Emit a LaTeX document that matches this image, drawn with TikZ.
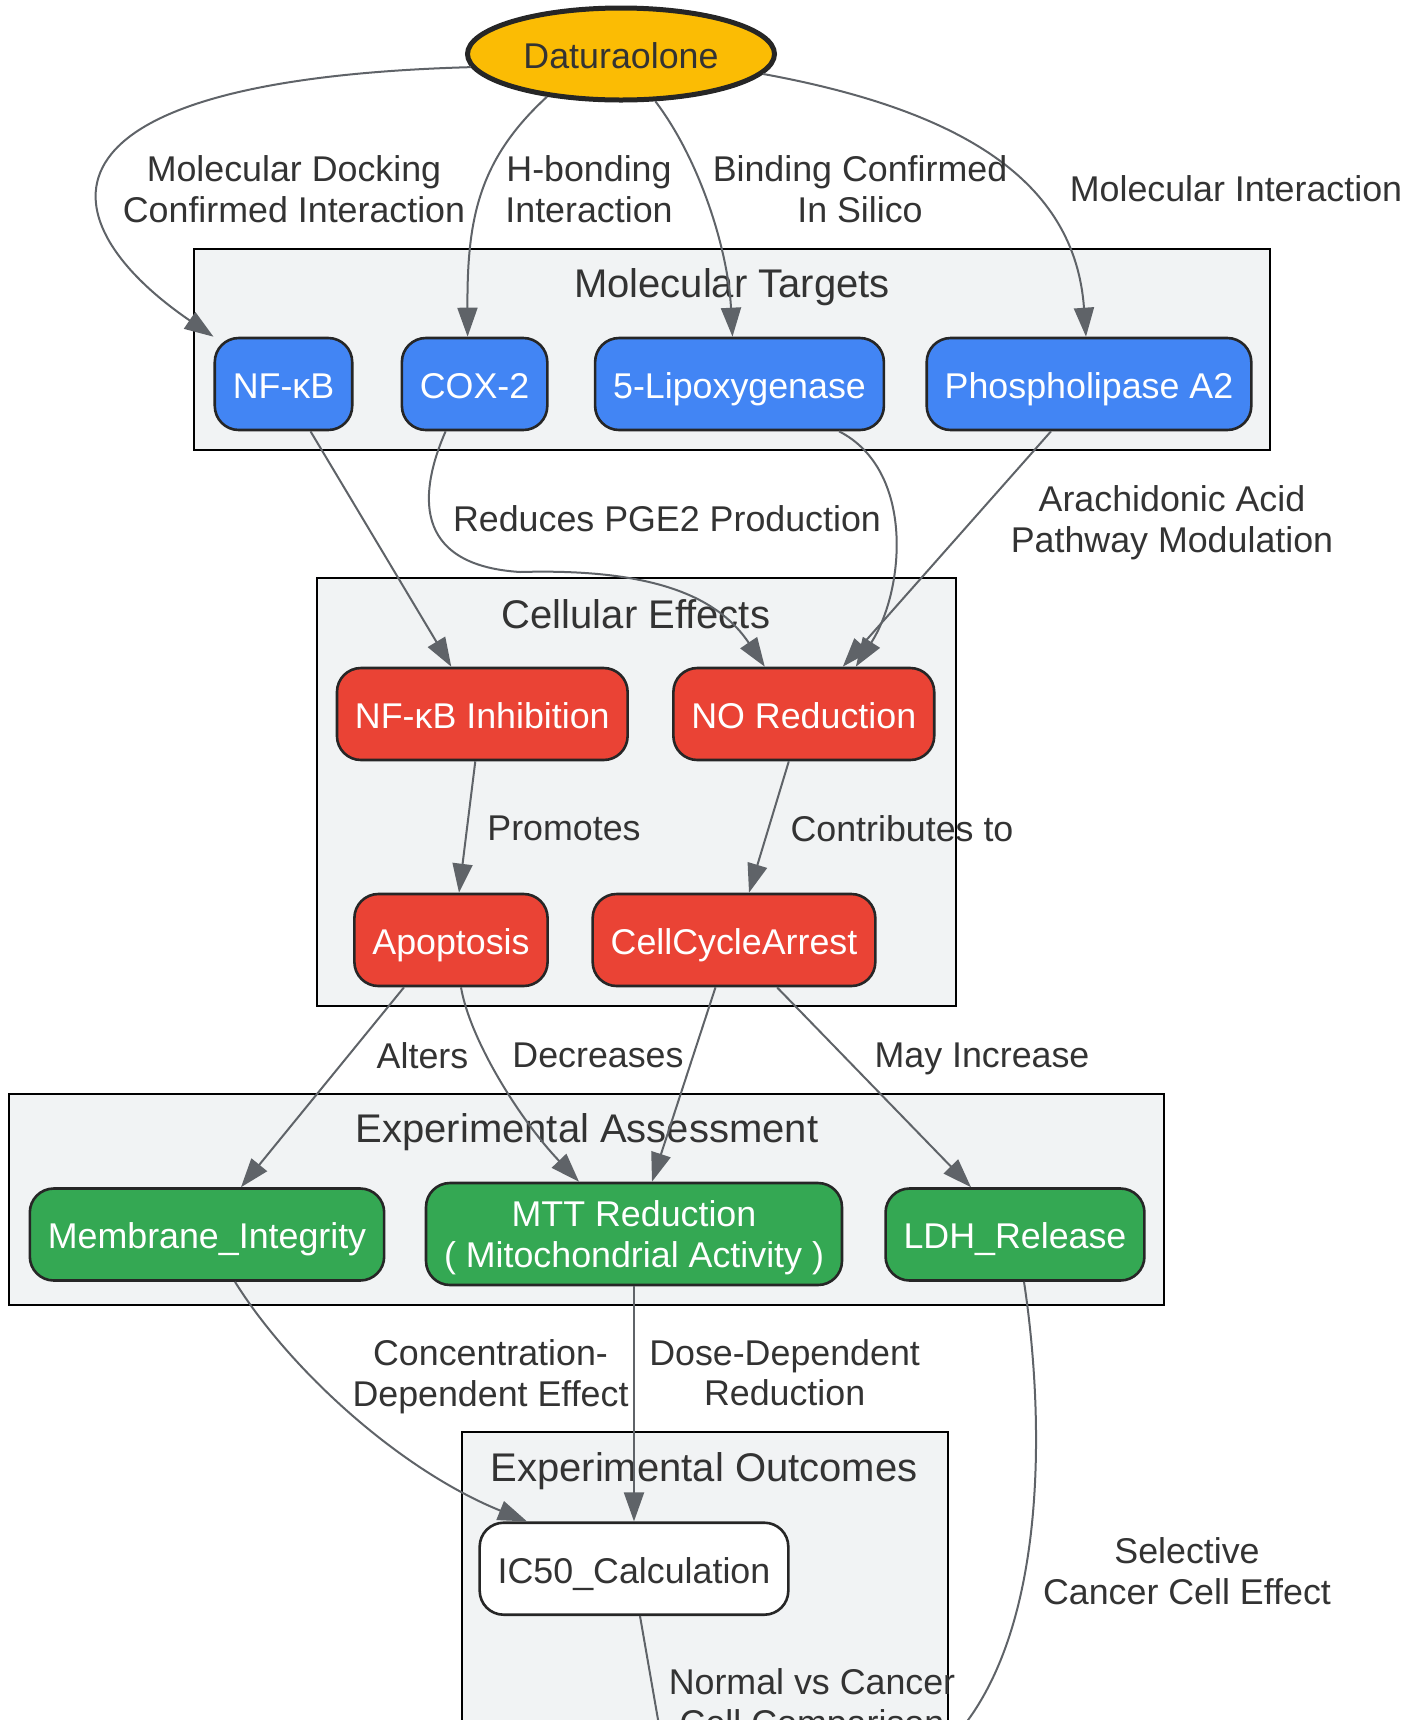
\documentclass[tikz,border=0pt]{standalone}
\usepackage{fontspec}
\setmainfont{Liberation Sans}
\usepackage{tikz}
\usetikzlibrary{arrows.meta,shapes.geometric}
\definecolor{gyellow}{HTML}{FBBC04}
\definecolor{gblue}{HTML}{4285F4}
\definecolor{gred}{HTML}{EA4335}
\definecolor{ggreen}{HTML}{34A853}
\definecolor{grpgray}{HTML}{F1F3F4}
\definecolor{egray}{HTML}{5F6368}
\definecolor{labgray}{HTML}{333333}

\begin{document}
\begin{tikzpicture}[x=0.5pt,y=-0.5pt,
	txt/.style={font=\fontsize{17.9}{20.3}\selectfont, text=labgray, align=center},
	ttl/.style={font=\fontsize{20}{24}\selectfont, text=labgray, text height=14.3pt, text depth=1pt},
	grp/.style={draw=black, line width=1.2pt, fill=grpgray},
	rnode/.style={draw=black!85, line width=1.3pt, rounded corners=12pt, minimum height=46pt, inner xsep=9pt, inner ysep=2pt, font=\fontsize{17.9}{20.3}\selectfont, text=white, align=center},
	oneline/.style={text height=14.4pt, text depth=0pt},
	target/.style={rnode, oneline, fill=gblue},
	effect/.style={rnode, oneline, fill=gred},
	assay/.style={rnode, fill=ggreen},
	outcome/.style={rnode, oneline, fill=white, text=labgray},
	link/.style={draw=egray, line width=1pt, -{Triangle[length=14.5pt,width=10pt]}}]
	
	\useasboundingbox (0,0) rectangle (1421,1720);
	
	\draw[grp] (194,249) rectangle (1270,450);
	\draw[grp] (317,578) rectangle (956,1006);
	\draw[grp] (9,1094) rectangle (1164,1305);
	\draw[grp] (462,1432) rectangle (948,1800);
	
	\node[ttl] (tTargets) at (732,284) {Molecular Targets};
	\node[ttl] (tEffects) at (636,615) {Cellular Effects};
	\node[ttl] (tAssess) at (587,1129) {Experimental Assessment};
	\node[ttl] (tOutcome) at (704,1468) {Experimental Outcomes};
	
	\node[ellipse, draw=black!85, line width=2.5pt, fill=gyellow, minimum width=153.5pt, minimum height=46pt, font=\fontsize{17.9}{20.3}\selectfont, text=labgray, oneline] (dat) at (621,54) {Daturaolone};
	
	\node[target] (nfkb) at (283.5,384) {NF-κB};
	\node[target] (cox) at (474.6,384) {COX-2};
	\node[target] (lox) at (739.5,384) {5-Lipoxygenase};
	\node[target] (pla) at (1089,384) {Phospholipase A2};
	
	\node[effect] (nfkbinh) at (482.3,714) {NF-κB Inhibition};
	\node[effect] (noRed) at (803.8,714) {NO Reduction};
	\node[effect] (apop) at (451,940) {Apoptosis};
	\node[effect] (arrest) at (734,940) {CellCycleArrest};
	
	\node[assay, oneline] (memb) at (207,1234.5) {Membrane\_Integrity};
	\node[assay, minimum height=51pt] (mtt) at (634,1234) {\rule{0pt}{16.8pt}MTT Reduction\\( Mitochondrial Activity )};
	\node[assay, oneline] (ldh) at (1015,1234.5) {LDH\_Release};
	
	\node[outcome] (ic50) at (634,1568.7) {IC50\_Calculation};
	
	\draw[link] (dat.185) .. controls (10,80) and (50,225) .. (nfkb.north west);
	\draw[link] (dat.210) .. controls (478,160) and (467,220) .. ([xshift=-3.5pt]cox.north);
	\draw[link] (dat.306) .. controls (700,160) and (728,250) .. ([xshift=-3.5pt]lox.north);
	\draw[link] (dat.352) .. controls (960,110) and (1075,180) .. ([xshift=-1.5pt]pla.north);
	
	\draw[link] ([xshift=13.5pt]nfkb.south) -- ([xshift=-15.5pt]nfkbinh.north);
	\draw[link] ([xshift=-14.5pt]cox.south) .. controls (420,490) and (410,565) .. (520,572) .. controls (660,568) and (720,600) .. ([xshift=-19.5pt]noRed.north);
	\draw[link] ([xshift=49.75pt]lox.south) .. controls (915,470) and (905,590) .. ([xshift=26pt]noRed.north);
	\draw[link] ([xshift=-19pt]pla.south) -- ([xshift=19.5pt]noRed.north);
	
	\draw[link] ([xshift=-3.5pt]nfkbinh.south) -- ([xshift=4pt]apop.north);
	\draw[link] ([xshift=-7.5pt]noRed.south) -- ([xshift=7.5pt]arrest.north);
	
	\draw[link] ([xshift=-23.5pt]apop.south) -- ([xshift=17pt]memb.north);
	\draw[link] ([xshift=5pt]apop.south) .. controls (470,1040) and (520,1120) .. ([xshift=-27.5pt]mtt.north);
	\draw[link] ([xshift=-9.25pt]arrest.south) -- ([xshift=9pt]mtt.north);
	\draw[link] ([xshift=21.5pt]arrest.south) -- ([xshift=-22pt]ldh.north);
	
	\draw[link] ([xshift=14pt]memb.south) .. controls (290,1370) and (400,1470) .. ([xshift=-53.5pt]ic50.north);
	\draw[link] (mtt.south) -- (ic50.north);
	
	\coordinate (cmpEnd) at (672,1800);
	\coordinate (selEnd) at (920,1770);
	\draw[link] ([xshift=3pt]ic50.south) -- (cmpEnd);
	\draw[link] ([xshift=4.5pt]ldh.south) .. controls (1045,1420) and (1050,1650) .. (selEnd);
	
	\node[txt] (lDock) at (294,189) {Molecular Docking\\Confirmed Interaction};
	\node[txt] (lHbond) at (589,189) {H-bonding\\Interaction};
	\node[txt] (lSilico) at (860,189) {Binding Confirmed\\In Silico};
	\node[txt] (lMolInt) at (1236,189) {Molecular Interaction};
	\node[txt] (lPGE) at (667,519) {Reduces PGE2 Production};
	\node[txt] (lArach) at (1172,522.5) {Arachidonic Acid\\Pathway Modulation};
	\node[txt] (lPromo) at (564,828.5) {Promotes};
	\node[txt] (lContr) at (902,828.5) {Contributes to};
	\node[txt] (lAlter) at (422.5,1055.6) {Alters};
	\node[txt] (lDecr) at (598,1055.6) {Decreases};
	\node[txt] (lMayInc) at (982,1059) {May Increase};
	\node[txt] (lConc) at (490.5,1377) {Concentration-\\Dependent Effect};
	\node[txt] (lDose) at (784.6,1372.7) {Dose-Dependent\\Reduction};
	\node[txt] (lNormal) at (812,1706) {Normal vs Cancer\\Cell Comparison};
	\node[txt] (lSelect) at (1187,1571) {Selective\\Cancer Cell Effect};
	
\end{tikzpicture}
\end{document}
